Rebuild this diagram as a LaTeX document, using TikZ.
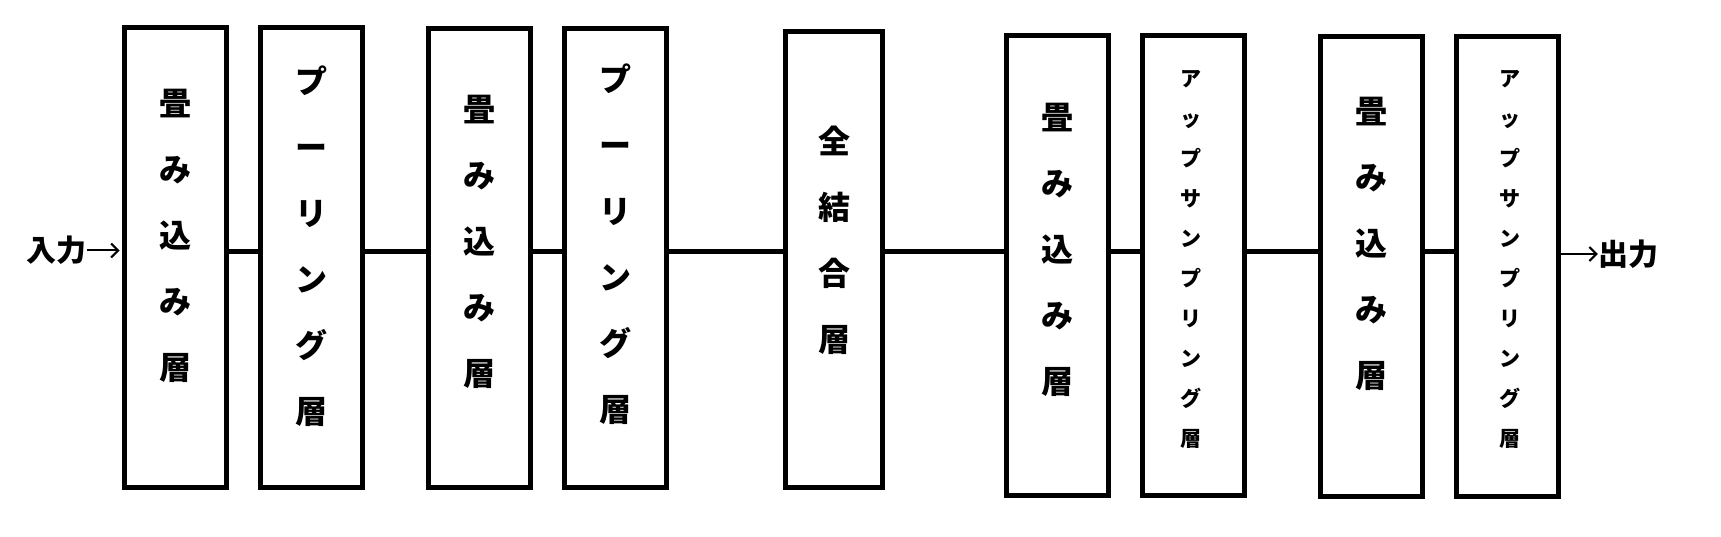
\documentclass[tikz,border=0pt]{standalone}
\usepackage{fontspec}
\setmainfont{Noto Sans CJK JP}
\usetikzlibrary{arrows.meta}
\begin{document}
\begin{tikzpicture}[x=1pt,y=-1pt,
  layer/.style={draw=black, line width=5pt, inner sep=0pt, minimum width=102pt, minimum height=460pt},
  bigtxt/.style={align=center, inner sep=0pt, font=\bfseries\fontsize{32}{66}\selectfont},
  smalltxt/.style={align=center, inner sep=0pt, font=\bfseries\fontsize{21}{40}\selectfont},
  io/.style={inner sep=0pt, font=\bfseries\fontsize{30}{36}\selectfont},
  link/.style={line width=5pt},
  iarrow/.style={line width=2pt, -{Straight Barb[length=7pt,width=14pt]}}]
\useasboundingbox (0,0) rectangle (1721,537);
\coordinate (mid) at (0,252);
% boxes
\node[layer] (b1) at (175.5,257.5) {};
\node[layer] (b2) at (311.5,257.5) {};
\node[layer, minimum height=459pt] (b3) at (479.5,258) {};
\node[layer, minimum height=459pt] (b4) at (615.5,258) {};
\node[layer, minimum width=97pt, minimum height=456pt] (b5) at (834,259.5) {};
\node[layer] (b6) at (1057.5,265.5) {};
\node[layer] (b7) at (1193.5,265.5) {};
\node[layer] (b8) at (1371.5,266.5) {};
\node[layer] (b9) at (1507.5,266.5) {};
% labels
\node[bigtxt] (t1) at (175.5,236.3) {畳\\み\\込\\み\\層};
\node[bigtxt] (t2) at (311.5,246.5) {プ\\ー\\リ\\ン\\グ\\層};
\node[bigtxt] (t3) at (479.5,241.5) {畳\\み\\込\\み\\層};
\node[bigtxt] (t4) at (615.5,244) {プ\\ー\\リ\\ン\\グ\\層};
\node[bigtxt] (t5) at (834,240) {全\\結\\合\\層};
\node[bigtxt] (t6) at (1057.5,250) {畳\\み\\込\\み\\層};
\node[smalltxt] (t7) at (1191,259) {ア\\ッ\\プ\\サ\\ン\\プ\\リ\\ン\\グ\\層};
\node[bigtxt] (t8) at (1371.5,244) {畳\\み\\込\\み\\層};
\node[smalltxt] (t9) at (1510,259) {ア\\ッ\\プ\\サ\\ン\\プ\\リ\\ン\\グ\\層};
% input / output
\node[io] (inp) at (56.5,250.5) {入力};
\node[io] (outp) at (1628,254) {出力};
\draw[iarrow, shorten >=2.5pt] (inp.east) -- (inp.east -| b1.west);
\draw[iarrow] (outp.west -| b9.east) -- (outp.west);
% links
\draw[link] (b1.east |- mid) -- (b2.west |- mid);
\draw[link] (b2.east |- mid) -- (b3.west |- mid);
\draw[link] (b3.east |- mid) -- (b4.west |- mid);
\draw[link] (b4.east |- mid) -- (b5.west |- mid);
\draw[link] (b5.east |- mid) -- (b6.west |- mid);
\draw[link] (b6.east |- mid) -- (b7.west |- mid);
\draw[link] (b7.east |- mid) -- (b8.west |- mid);
\draw[link] (b8.east |- mid) -- (b9.west |- mid);
\end{tikzpicture}
\end{document}
